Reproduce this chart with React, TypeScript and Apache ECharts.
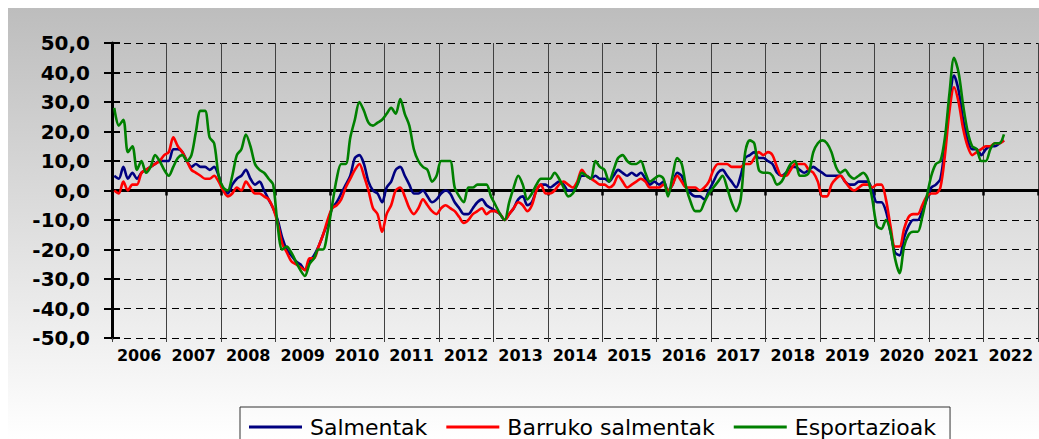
import React, { useEffect, useRef } from "react";
import * as echarts from "echarts";

const years = ["2006", "2007", "2008", "2009", "2010", "2011", "2012", "2013", "2014", "2015", "2016", "2017", "2018", "2019", "2020", "2021", "2022"];

// monthly values, Jan 2006 .. May 2022
const salmentak = [
  5, 4, 8, 4, 6, 4, 6, 7, 8, 9, 10, 10,
  10, 14, 14, 13, 10, 8, 9, 8, 8, 7, 8, 5,
  0, -1, 2, 4, 5, 7, 4, 2, 3, 0, -3, -6,
  -10, -16, -20, -22, -24, -25, -27, -24, -22, -19, -15, -11,
  -6, -4, -1, 2, 5, 11, 12, 9, 3, 0, -1, -4,
  1, 3, 7, 8, 5, 2, -1, -1, 0, -2, -4, -3,
  -1, 0, -1, -4, -6, -8, -8, -6, -4, -3, -5, -6,
  -7, -8, -10, -8, -6, -3, -2, -5, -4, 0, 2, 2,
  1, 2, 3, 2, 0, 0, 2, 5, 5, 4, 5, 4,
  4, 3, 5, 7, 6, 5, 6, 5, 6, 4, 2, 3,
  2, 3, 0, 2, 6, 5, 1, -1, -2, -2, -3, 0,
  3, 6, 7, 5, 3, 1, 5, 11, 12, 13, 11, 11,
  10, 9, 6, 5, 6, 8, 8, 7, 6, 7, 8, 7,
  6, 5, 5, 5, 5, 3, 2, 2, 3, 3, 3, 0,
  -4, -4, -7, -14, -21, -22, -16, -12, -10, -10, -7, -3,
  1, 2, 4, 15, 30, 39, 34, 24, 17, 14, 14, 12,
  14, 15, 15, 16, 17,
];

const barrukoSalmentak = [
  0, -1, 3, 0, 2, 2, 6, 7, 8, 9, 10, 12,
  13, 18, 15, 13, 10, 7, 6, 5, 4, 4, 5, 3,
  0, -2, -1, 1, 0, 3, 1, -1, -1, -2, -3, -6,
  -11, -18, -21, -24, -25, -26, -27, -23, -23, -19, -15, -10,
  -6, -5, -3, 1, 4, 7, 9, 5, 0, -6, -8, -14,
  -8, -5, 0, 1, -2, -6, -8, -6, -3, -5, -7, -8,
  -6, -5, -6, -7, -9, -11, -10, -8, -7, -6, -8, -7,
  -7, -8, -10, -8, -6, -4, -5, -7, -5, 0, 2, -1,
  -1, 0, 2, 3, 2, 1, 3, 7, 5, 4, 3, 2,
  2, 1, 2, 5, 3, 1, 2, 3, 4, 3, 1, 1,
  1, 2, 0, 2, 5, 3, 1, 1, 1, 0, 1, 3,
  7, 9, 9, 9, 8, 8, 8, 9, 9, 11, 13, 12,
  13, 12, 8, 5, 5, 7, 9, 9, 9, 7, 6, 3,
  -2, -2, 2, 4, 5, 3, 1, 0, 1, 2, 2, 1,
  2, 2, -3, -12, -19, -19, -13, -9, -8, -8, -5, -2,
  -1, -1, 1, 12, 27, 35, 30, 21, 15, 12, 13, 14,
  15, 15, 16, 16, 17,
];

const esportazioak = [
  28, 22, 24, 13, 15, 7, 10, 6, 8, 12, 10, 7,
  5, 8, 11, 12, 10, 12, 20, 27, 27, 18, 16, 5,
  1, 0, 5, 12, 14, 19, 15, 9, 7, 6, 4, 2,
  -12, -20, -19, -21, -24, -27, -29, -25, -23, -20, -20, -14,
  -5, 4, 9, 9, 18, 24, 30, 27, 23, 22, 23, 24,
  26, 28, 26, 31, 26, 22, 14, 10, 8, 7, 3, 5,
  10, 10, 10, 1, -2, -4, 1, 1, 2, 2, 2, -2,
  -5, -8, -10, -4, 1, 5, 2, -3, -1, 2, 4, 4,
  4, 6, 4, 1, -2, -1, 2, 6, 5, 4, 10, 8,
  7, 3, 7, 11, 12, 10, 9, 9, 10, 6, 3, 4,
  5, 4, -2, 5, 11, 9, 1, -4, -7, -7, -4, -1,
  1, 3, 5, 1, -4, -7, -3, 13, 17, 16, 7, 6,
  6, 5, 2, 3, 6, 9, 10, 5, 5, 6, 13, 16,
  17, 16, 13, 8, 6, 7, 5, 4, 5, 6, 4, -3,
  -12, -13, -10, -14, -23, -28, -19, -15, -14, -14, -9, -2,
  5, 9, 10, 18, 33, 45, 40, 29, 20, 15, 14, 10,
  10, 14, 16, 16, 19,
];

const seriesNames = ["Salmentak", "Barruko salmentak", "Esportazioak"];
const seriesColors = ["#000080", "#ff0000", "#008000"];

const toPoints = (arr: number[]) => arr.map((v, i) => [i + 0.5, v]);

export default function App() {
  const ref = useRef<HTMLDivElement>(null);

  useEffect(() => {
    if (!ref.current) return;
    const chart = echarts.init(ref.current, null, { renderer: "svg" });
    const seriesData = [salmentak, barrukoSalmentak, esportazioak];
    const months = years.length * 12;
    chart.setOption({
      animation: false,
      backgroundColor: new echarts.graphic.LinearGradient(0, 0, 0, 1, [
        { offset: 0, color: "#bdbdbd" },
        { offset: 1, color: "#ffffff" },
      ]),
      grid: { left: 104, right: 1, top: 35, bottom: 101, containLabel: false },
      legend: {
        left: 232,
        top: 399,
        orient: "horizontal",
        data: seriesNames,
        icon: "rect",
        itemWidth: 53,
        itemHeight: 3,
        itemGap: 19,
        padding: [9, 14, 10, 9],
        borderColor: "#333333",
        borderWidth: 1,
        textStyle: { fontFamily: "DejaVu Sans", fontSize: 22, lineHeight: 20, color: "#000", padding: [0, 0, 0, 3] },
      },
      xAxis: [
        {
          type: "category",
          data: years,
          boundaryGap: true,
          position: "bottom",
          axisLine: { show: false, onZero: false },
          axisTick: { show: true, interval: 0, length: 4, lineStyle: { color: "#404040", width: 1 } },
          axisLabel: {
            interval: 0,
            hideOverlap: false,
            fontFamily: "DejaVu Sans",
            fontWeight: "bold",
            fontSize: 16,
            color: "#000",
            margin: 9,
          },
          splitLine: { show: true, interval: 0, lineStyle: { color: "#404040", width: 1, type: "solid" } },
        },
        {
          type: "value",
          min: 0,
          max: months,
          interval: 12,
          position: "bottom",
          axisLine: { show: true, onZero: true, lineStyle: { color: "#000", width: 3 } },
          axisTick: { show: true, length: 5, lineStyle: { color: "#000", width: 2.5 } },
          axisLabel: { show: false },
          splitLine: { show: false },
        },
      ],
      yAxis: [
        {
          type: "value",
          min: -50,
          max: 50,
          interval: 10,
          position: "left",
          axisLine: { show: true, onZero: false, lineStyle: { color: "#000", width: 3 } },
          axisTick: { show: true, length: 8, lineStyle: { color: "#000", width: 2 } },
          axisLabel: {
            fontFamily: "DejaVu Sans",
            fontWeight: "bold",
            fontSize: 20,
            color: "#000",
            margin: 22,
            formatter: (v: number) => v.toFixed(1).replace(".", ","),
          },
          splitLine: { show: true, lineStyle: { color: "#000", width: 1, type: [7, 5] } },
        },
        {
          type: "value",
          min: -50,
          max: 50,
          interval: 10,
          position: "left",
          axisLine: { show: false, onZero: false },
          axisTick: { show: true, inside: true, length: 8, lineStyle: { color: "#000", width: 2 } },
          axisLabel: { show: false },
          splitLine: { show: false },
        },
      ],
      series: seriesNames.map((name, k) => ({
        name,
        type: "line",
        xAxisIndex: 1,
        yAxisIndex: 0,
        data: toPoints(seriesData[k]),
        showSymbol: false,
        symbol: "none",
        smooth: 0.3,
        lineStyle: { color: seriesColors[k], width: 2.6 },
        itemStyle: { color: seriesColors[k] },
        z: 3 + k,
      })),
    });
    return () => chart.dispose();
  }, []);

  return (
    <div
      ref={ref}
      style={{ position: "absolute", left: 8, top: 8, width: 1031, height: 431 }}
    />
  );
}
